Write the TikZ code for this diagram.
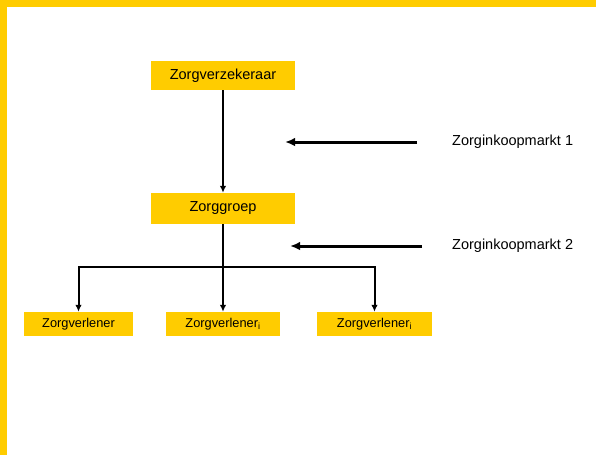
\documentclass[tikz,border=0pt]{standalone}
\usepackage{fontspec}
\setmainfont{Liberation Sans}
\usetikzlibrary{arrows.meta}
\definecolor{zorggeel}{RGB}{255, 204, 0}
\tikzset{>={Latex[length=7pt,width=6pt]}}

\begin{document}
\begin{tikzpicture}[
    x = 1pt, y = -1pt,
    box/.style = {fill = zorggeel, inner sep = 0pt, font = \fontsize{14.5}{16}\selectfont},
    boxklein/.style = {box, minimum height = 24pt, font = \fontsize{12.8}{14}\selectfont},
    lijn/.style = {line width = 2pt, -{Latex[length=7pt,width=6.5pt]}},
    marktpijl/.style = {line width = 3pt, -{Latex[length=10pt,width=8.5pt]}},
    markt/.style = {anchor = west, inner sep = 0pt, font = \fontsize{14.5}{16}\selectfont}
]

\useasboundingbox (0,0) rectangle (596,455);
\fill[zorggeel] (0,0) rectangle (596,7);
\fill[zorggeel] (0,0) rectangle (7,455);

\node[box, minimum width = 144pt, minimum height = 29pt] (verzekeraar) at (223, 75.5) {Zorgverzekeraar};
\node[box, minimum width = 144pt, minimum height = 31pt] (groep) at (223, 208.5) {Zorggroep};

\node[boxklein, minimum width = 109pt] (verlener1) at (78.5, 324) {Zorgverlener};
\node[boxklein, minimum width = 114pt] (verlener2) at (223, 324) {Zorgverlener\textsubscript{i}};
\node[boxklein, minimum width = 115pt] (verlener3) at (374.5, 324) {Zorgverlener\textsubscript{i}};

\node[markt] (markt1) at (452, 142) {Zorginkoopmarkt 1};
\node[markt] (markt2) at (452, 246) {Zorginkoopmarkt 2};

\coordinate (split) at (223, 267);
\coordinate (markt1start) at (417, 142);
\coordinate (markt1eind) at (285, 142);
\coordinate (markt2start) at (422, 246);
\coordinate (markt2eind) at (290, 246);

\draw[lijn] (verzekeraar.south) -- (groep.north);
\draw[lijn, -] (groep.south) -- (split);
\draw[lijn] (split) -| (verlener1.north);
\draw[lijn] (split) -- (verlener2.north);
\draw[lijn] (split) -| (verlener3.north);

\draw[marktpijl] (markt1start) -- (markt1eind);
\draw[marktpijl] (markt2start) -- (markt2eind);

\end{tikzpicture}
\end{document}
